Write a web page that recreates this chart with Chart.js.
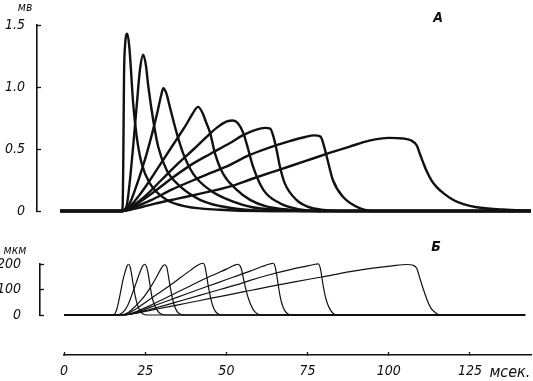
<!DOCTYPE html>
<html>
<head>
<meta charset="utf-8">
<script src="https://cdn.jsdelivr.net/npm/chart.js@4/dist/chart.umd.min.js"></script>
<style>
  html,body{margin:0;padding:0;background:#fff;}
  #wrap{position:relative;width:533px;height:381px;overflow:hidden;background:#fff;}
  .pane{position:absolute;left:0;width:533px;}
  canvas{display:block;}
</style>
</head>
<body>
<div id="wrap">
  <div class="pane" style="top:0;height:226px;"><canvas id="cA" width="533" height="226"></canvas></div>
  <div class="pane" style="top:234px;height:96px;"><canvas id="cB" width="533" height="96"></canvas></div>
  <div class="pane" style="top:330px;height:51px;"><canvas id="cT" width="533" height="51"></canvas></div>
</div>
<script>
// ---------- data (time in ms) ----------
// Panel A: potential, mV
const traceA1 = [[-1.2,0],[17.8,0],[18.1,0.05],[18.3,0.5],[18.5,1.1],[18.8,1.33],[19.5,1.43],[20.1,1.33],[20.6,1.15],[21.3,0.87],[22.4,0.6],[23.9,0.385],[26.5,0.22],[31.6,0.09],[37.8,0.035],[48,0.01],[60,0],[143.8,0]];
const traceA2 = [[-1.2,0],[17.5,0],[18.5,0.01],[19.3,0.04],[20.2,0.22],[21.3,0.52],[22.4,0.85],[23.4,1.14],[24.4,1.26],[25.2,1.18],[26.0,1.0],[27.5,0.73],[29.0,0.52],[31.6,0.33],[35.7,0.2],[41.9,0.09],[48,0.04],[56,0.01],[65,0],[143.8,0]];
const traceA3 = [[-1.2,0],[17.9,0],[19,0.02],[20.3,0.065],[22,0.18],[23.8,0.32],[25.5,0.465],[27.2,0.63],[28.8,0.8],[29.9,0.93],[30.6,0.99],[31.5,0.95],[32.6,0.84],[34.7,0.63],[36.7,0.465],[39.8,0.3],[44.9,0.17],[52.1,0.075],[58,0.03],[66,0.01],[75,0],[143.8,0]];
const traceA4 = [[-1.2,0],[18,0],[20,0.03],[23,0.12],[26,0.23],[29,0.35],[32,0.47],[35,0.59],[37.5,0.69],[39.5,0.78],[41.3,0.84],[42.5,0.8],[43.7,0.72],[45.0,0.63],[46.5,0.465],[49,0.3],[53.2,0.17],[57.3,0.09],[62,0.04],[70,0.01],[78,0],[143.8,0]];
const traceA5 = [[-1.2,0],[18,0],[21,0.04],[25,0.12],[30,0.25],[35,0.38],[40,0.5],[44,0.6],[47,0.67],[50,0.72],[52,0.73],[53.5,0.71],[55.2,0.63],[56.7,0.5],[58.2,0.36],[61.4,0.17],[66.5,0.062],[72,0.015],[78,0],[143.8,0]];
const traceA6 = [[-1.2,0],[18,0],[22,0.05],[27,0.14],[33,0.26],[39,0.37],[45,0.46],[51,0.546],[55,0.61],[59,0.655],[62,0.67],[63.5,0.665],[64.5,0.6],[65.5,0.49],[66.5,0.357],[68,0.223],[71.6,0.089],[75,0.035],[80,0.008],[85,0],[143.8,0]];
const traceA7 = [[-1.2,0],[18,0],[22,0.035],[27,0.09],[33,0.17],[40,0.25],[46,0.315],[51,0.37],[57,0.45],[63,0.51],[69,0.56],[74,0.595],[77,0.61],[79,0.6],[80,0.53],[80.9,0.44],[82.8,0.25],[85.9,0.115],[91,0.024],[96,0],[143.8,0]];
const traceA8 = [[-1.2,0],[18,0],[22,0.02],[28,0.06],[35,0.1],[42,0.14],[51,0.196],[58,0.26],[66,0.33],[74,0.4],[82,0.47],[88,0.52],[94,0.567],[100,0.59],[104.4,0.585],[106.8,0.57],[108.6,0.53],[109.6,0.46],[110.6,0.39],[111.7,0.32],[113.2,0.245],[114.7,0.195],[117,0.14],[119.9,0.089],[123,0.055],[127.1,0.03],[135.2,0.012],[143.8,0]];

// Panel Б: displacement, µm
const traceB1 = [[0,0],[14,0],[15.3,2],[16.2,20],[17.2,76],[18.1,135],[18.8,169],[19.4,192],[19.9,199],[20.4,187],[20.8,160],[21.3,120],[21.9,76],[22.6,40],[23.4,16],[24.2,5],[25,1],[26,0],[142,0]];
const traceB2 = [[0,0],[16,0],[17.2,3],[18.5,15],[19.7,40],[20.8,76],[22.1,122],[23.4,169],[24.3,194],[24.9,199],[25.5,185],[26.0,156],[26.5,115],[27.0,76],[27.7,45],[28.5,23],[29.3,9],[30.1,3],[31,0],[142,0]];
const traceB3 = [[0,0],[17,0],[18.5,3],[20,12],[22,35],[24,62],[24.9,76],[26.8,112],[28.5,149],[29.8,180],[30.5,193],[31.1,197],[31.7,185],[32.1,156],[32.6,118],[33.2,76],[33.9,40],[34.7,16],[35.4,6],[36.2,2],[37,0],[142,0]];
const traceB4 = [[0,0],[17.5,0],[19,3],[21,15],[24,40],[27,67],[30,93],[33,120],[36,148],[39,176],[41,194],[42.3,202],[42.9,203],[43.4,190],[43.9,156],[44.4,115],[45.0,76],[45.7,40],[46.5,16],[47.5,4],[48.6,0],[142,0]];
const traceB5 = [[0,0],[18,0],[20,3],[23,17],[27,40],[31,65],[35,90],[39,115],[43,140],[47,163],[50,180],[52.3,194],[53.5,199],[54.5,185],[55.3,140],[56.2,90],[57.2,50],[58.3,20],[59.5,5],[61,0],[142,0]];
const traceB6 = [[0,0],[18,0],[20,3],[24,18],[29,42],[35,70],[41,98],[47,125],[52,148],[57.3,172],[61,190],[63.3,200],[64.4,203],[65,190],[65.5,156],[66,115],[66.5,76],[67.2,40],[68,16],[69,4],[70.1,0],[142,0]];
const traceB7 = [[0,0],[18,0],[20,2],[24,13],[30,34],[36,56],[42,78],[48,100],[53,118],[57.3,136],[63,157],[69,176],[74,190],[77.3,199],[78.3,201],[78.9,185],[79.3,156],[79.8,115],[80.4,76],[81.1,45],[81.9,23],[82.8,7],[84,0],[142,0]];
const traceB8 = [[0,0],[18,0],[20,2],[23,9],[27,19],[32,32],[38,47],[45,65],[51,80],[57.3,96],[64,113],[71,130],[79.3,149],[88.1,170],[95,184],[101,193],[105.5,198],[107.5,195],[108.6,183],[109.6,143],[110.6,103],[111.7,63],[112.5,38],[113.2,23],[114.5,8],[115.8,0],[142,0]];

// ticks
const yTickValuesA = [0, 0.5, 1.0, 1.5];
const yTickLabelsA = ['0', '0.5', '1.0', '1.5'];
const yTickValuesB = [0, 100, 200];
const yTickLabelsB = ['0', '100', '200'];
const timeTickValues = [0, 25, 50, 75, 100, 125, 137.3];
const timeTickLabels = ['0', '25', '50', '75', '100', '125', 'мсек.'];
const unitA = 'мв', panelA = 'A';
const unitB = 'мкм', panelB = 'Б';

// ---------- styling ----------
const INK = '#111';
const FONT_FAMILY = "'Liberation Sans Narrow','DejaVu Sans Condensed','Liberation Sans',sans-serif";
const tickFont = {family: FONT_FAMILY, style: 'italic', size: 14};
const unitTickFont = {family: FONT_FAMILY, style: 'italic', size: 16};

const textPlugin = {
  id: 'panelText',
  afterDraw(chart, args, opts) {
    const ctx = chart.ctx;
    ctx.save();
    ctx.fillStyle = INK;
    ctx.textBaseline = 'middle';
    (opts.items || []).forEach(t => {
      ctx.font = t.font;
      ctx.textAlign = t.align || 'center';
      ctx.fillText(t.text, t.x, t.y);
    });
    ctx.restore();
  }
};

function toXY(arr) { return arr.map(p => ({x: p[0], y: p[1]})); }
function lineDs(arr, w) {
  return {data: toXY(arr), borderColor: INK, borderWidth: w, pointRadius: 0,
          fill: false, cubicInterpolationMode: 'monotone', clip: false};
}
function yAxis(vals, labels, min, max, width, pad) {
  return {
    type: 'linear', position: 'left', min: min, max: max,
    afterBuildTicks: s => { s.ticks = vals.map(v => ({value: v})); },
    afterFit: s => { s.width = width; s.paddingTop = 0; s.paddingBottom = 0; },
    ticks: {color: INK, font: tickFont, padding: pad,
            callback: (v, i) => labels[i]},
    grid: {display: true, drawOnChartArea: false, drawTicks: true, tickLength: -4,
           tickColor: INK, tickWidth: 1.3},
    border: {display: true, color: INK, width: 1.6}
  };
}
const common = {responsive: false, animation: false, devicePixelRatio: 1,
                events: [], plugins: {legend: {display: false}, tooltip: {enabled: false}}};

const X_MIN_A = -8.3, X_MIN_B = -7.4, X_MAX = 143.8;

// ---------- Panel A ----------
new Chart(document.getElementById('cA'), {
  type: 'line',
  data: {datasets: [traceA1, traceA2, traceA3, traceA4, traceA5, traceA6, traceA7, traceA8].map(a => lineDs(a, 2.4))},
  options: Object.assign({}, common, {
    layout: {padding: {top: 25, bottom: 15, left: 0, right: 2}},
    scales: {
      x: {type: 'linear', min: X_MIN_A, max: X_MAX, display: false},
      y: yAxis(yTickValuesA, yTickLabelsA, 0, 1.5, 37, 16)
    },
    plugins: Object.assign({}, common.plugins, {
      panelText: {items: [
        {text: unitA, x: 25, y: 8, font: "italic 12px " + FONT_FAMILY},
        {text: panelA, x: 438, y: 18, font: "italic bold 14px " + FONT_FAMILY}
      ]}
    })
  }),
  plugins: [textPlugin]
});

// ---------- Panel Б ----------
new Chart(document.getElementById('cB'), {
  type: 'line',
  data: {datasets: [traceB1, traceB2, traceB3, traceB4, traceB5, traceB6, traceB7, traceB8].map(a => lineDs(a, 1.2))},
  options: Object.assign({}, common, {
    layout: {padding: {top: 30, bottom: 15, left: 0, right: 2}},
    scales: {
      x: {type: 'linear', min: X_MIN_B, max: X_MAX, display: false},
      y: yAxis(yTickValuesB, yTickLabelsB, 0, 200, 40, 23)
    },
    plugins: Object.assign({}, common.plugins, {
      panelText: {items: [
        {text: unitB, x: 15, y: 17, font: "italic 12px " + FONT_FAMILY},
        {text: panelB, x: 436, y: 13, font: "italic bold 14px " + FONT_FAMILY}
      ]}
    })
  }),
  plugins: [textPlugin]
});

// ---------- Time axis ----------
new Chart(document.getElementById('cT'), {
  type: 'line',
  data: {datasets: []},
  options: Object.assign({}, common, {
    layout: {padding: {top: 0, bottom: 0, left: 64, right: 2}},
    scales: {
      x: {
        type: 'linear', position: 'bottom', min: 0, max: X_MAX,
        afterBuildTicks: s => { s.ticks = timeTickValues.map(v => ({value: v})); },
        afterFit: s => { s.height = 26; s.paddingLeft = 0; s.paddingRight = 0; },
        ticks: {color: INK, padding: 11, autoSkip: false, maxRotation: 0,
                font: c => (c.index === timeTickValues.length - 1 ? unitTickFont : tickFont),
                callback: (v, i) => timeTickLabels[i]},
        grid: {display: true, drawOnChartArea: false, drawTicks: true, tickLength: -3,
               tickWidth: 1.3,
               tickColor: c => (c.index === timeTickValues.length - 1 ? 'rgba(0,0,0,0)' : INK)},
        border: {display: true, color: INK, width: 1.6}
      },
      y: {display: false, min: 0, max: 1}
    }
  })
});
</script>
</body>
</html>
